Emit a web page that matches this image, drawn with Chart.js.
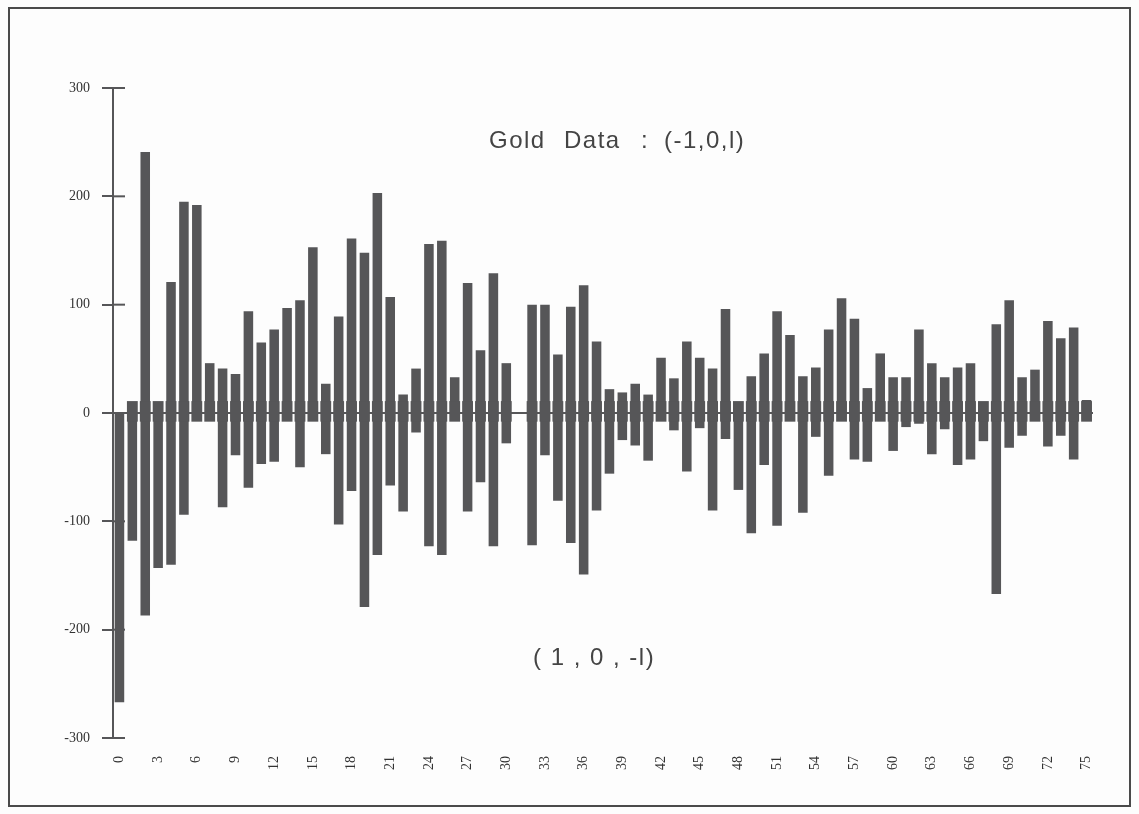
<!DOCTYPE html>
<html>
<head>
<meta charset="utf-8">
<script src="https://cdn.jsdelivr.net/npm/chart.js@4"></script>
<style>
body { margin: 0; background: #fdfdfd; }
#wrap { position: relative; width: 1139px; height: 814px; }
#c { position: absolute; left: 0; top: 0; }
#frame { position: absolute; left: 8px; top: 7px; width: 1123px; height: 800px; border: 2px solid #4a4a4a; box-sizing: border-box; pointer-events: none; }
.note { position: absolute; font-family: "Liberation Sans", Arial, sans-serif; color: #444; white-space: pre; }
.ttl { top: 126px; font-size: 24px; letter-spacing: 1.5px; }
</style>
</head>
<body>
<div id="wrap">
  <canvas id="c" width="1139" height="814"></canvas>
  <div id="frame"></div>
  <div class="note ttl" style="left:489px;">Gold</div>
  <div class="note ttl" style="left:564px;">Data</div>
  <div class="note ttl" style="left:641px;">:</div>
  <div class="note ttl" style="left:664px;">(-1,0,l)</div>
  <div class="note" style="left:533px;top:643px;font-size:24px;letter-spacing:1.5px;">( 1 , 0 , -l)</div>
</div>
<script>
// lags 0..75
const lags = ['0','1','2','3','4','5','6','7','8','9','10','11','12','13','14','15','16','17','18','19',
  '20','21','22','23','24','25','26','27','28','29','30','31','32','33','34','35','36','37','38','39',
  '40','41','42','43','44','45','46','47','48','49','50','51','52','53','54','55','56','57','58','59',
  '60','61','62','63','64','65','66','67','68','69','70','71','72','73','74','75'];

// (-1,0,1) pattern counts, above zero
const upCounts = [0, 0, 241, 0, 121, 195, 192, 46, 41, 36,
  94, 65, 77, 97, 104, 153, 27, 89, 161, 148,
  203, 107, 17, 41, 156, 159, 33, 120, 58, 129,
  46, 0, 100, 100, 54, 98, 118, 66, 22, 19,
  27, 17, 51, 32, 66, 51, 41, 96, 0, 34,
  55, 94, 72, 34, 42, 77, 106, 87, 23, 55,
  33, 33, 77, 46, 33, 42, 46, 0, 82, 104,
  33, 40, 85, 69, 79, 12];

// (1,0,-1) pattern counts, below zero
const downCounts = [-267, -118, -187, -143, -140, -94, 0, 0, -87, -39,
  -69, -47, -45, 0, -50, 0, -38, -103, -72, -179,
  -131, -67, -91, -18, -123, -131, 0, -91, -64, -123,
  -28, 0, -122, -39, -81, -120, -149, -90, -56, -25,
  -30, -44, 0, -16, -54, -14, -90, -24, -71, -111,
  -48, -104, 0, -92, -22, -58, 0, -43, -45, 0,
  -35, -13, -10, -38, -15, -48, -43, -26, -167, -32,
  -21, 0, -31, -21, -43, -6];

// small blocks around the zero line
const bandHi = [0, 11, 11, 11, 11, 11, 11, 11, 11, 11,
  11, 11, 11, 11, 11, 11, 11, 11, 11, 11,
  11, 11, 11, 11, 11, 11, 11, 11, 11, 11,
  11, 0, 11, 11, 11, 11, 11, 11, 11, 11,
  11, 11, 11, 11, 11, 11, 11, 11, 11, 11,
  11, 11, 11, 11, 11, 11, 11, 11, 11, 11,
  11, 11, 11, 11, 11, 11, 11, 11, 11, 11,
  11, 11, 11, 11, 11, 11];
const bandLo = [0, -8, -8, -8, -8, -8, -8, -8, -8, -8,
  -8, -8, -8, -8, -8, -8, -8, -8, -8, -8,
  -8, -8, -8, -8, -8, -8, -8, -8, -8, -8,
  -8, 0, -8, -8, -8, -8, -8, -8, -8, -8,
  -8, -8, -8, -8, -8, -8, -8, -8, -8, -8,
  -8, -8, -8, -8, -8, -8, -8, -8, -8, -8,
  -8, -8, -8, -8, -8, -8, -8, -8, -8, -8,
  -8, -8, -8, -8, -8, -8];

const yTicks = [-300, -200, -100, 0, 100, 200, 300];

const ink = '#565658';

// tick marks on the y axis cross the axis line
const crossTicks = {
  id: 'crossTicks',
  beforeDatasetsDraw(chart) {
    const y = chart.scales.y;
    const ctx = chart.ctx;
    ctx.save();
    ctx.strokeStyle = ink;
    ctx.lineWidth = 2;
    yTicks.forEach(v => {
      const py = y.getPixelForValue(v);
      ctx.beginPath();
      ctx.moveTo(y.right, py);
      ctx.lineTo(y.right + 12, py);
      ctx.stroke();
    });
    ctx.restore();
  }
};

new Chart(document.getElementById('c').getContext('2d'), {
  type: 'bar',
  data: {
    labels: lags,
    datasets: [
      {
        label: 'band',
        data: bandLo.map((lo, i) => [lo, bandHi[i]]),
        backgroundColor: ink,
        grouped: false,
        barPercentage: 0.84,
        categoryPercentage: 1
      },
      {
        label: 'counts',
        data: downCounts.map((lo, i) => [lo, upCounts[i]]),
        backgroundColor: ink,
        grouped: false,
        barPercentage: 0.74,
        categoryPercentage: 1
      }
    ]
  },
  options: {
    responsive: false,
    animation: false,
    devicePixelRatio: 1,
    layout: { padding: { left: 53, right: 46, top: 88, bottom: 0 } },
    plugins: { legend: { display: false }, tooltip: { enabled: false } },
    scales: {
      x: {
        grid: { display: false },
        border: { display: false },
        afterFit(scale) { scale.height = 76; },
        ticks: {
          autoSkip: false,
          minRotation: 90,
          maxRotation: 90,
          padding: 10,
          color: '#333',
          font: { family: '"Liberation Serif", "DejaVu Serif", serif', size: 14 },
          callback: (v, i) => (i % 3 === 0 ? lags[i] : '')
        }
      },
      y: {
        min: -300,
        max: 300,
        afterFit(scale) { scale.width = 60; },
        afterBuildTicks(scale) { scale.ticks = yTicks.map(v => ({ value: v })); },
        border: { display: true, color: ink, width: 2 },
        grid: {
          drawOnChartArea: true,
          color: ctx => (ctx.tick && ctx.tick.value === 0 ? ink : 'rgba(0,0,0,0)'),
          tickColor: ink,
          tickLength: 11,
          lineWidth: 2
        },
        ticks: {
          padding: 12,
          color: '#333',
          font: { family: '"Liberation Serif", "DejaVu Serif", serif', size: 14 }
        }
      }
    }
  },
  plugins: [crossTicks]
});
</script>
</body>
</html>
